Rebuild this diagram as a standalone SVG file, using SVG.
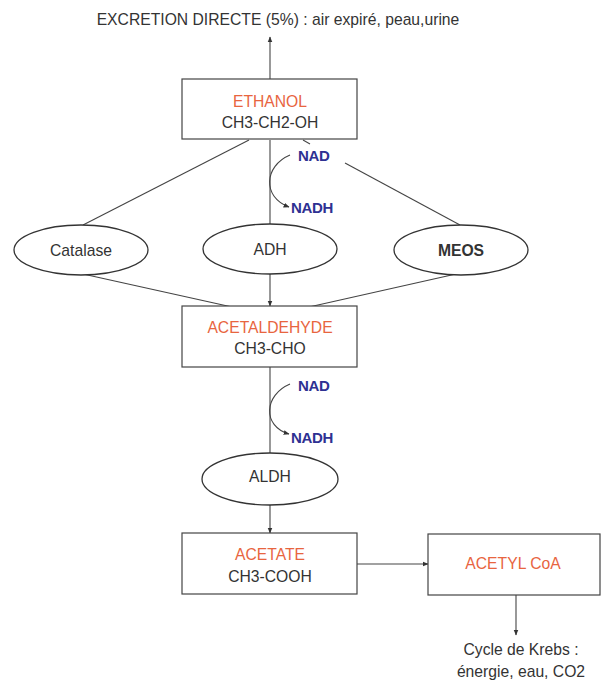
<svg xmlns="http://www.w3.org/2000/svg" width="606" height="688" viewBox="0 0 606 688">
<defs>
<marker id="ah" viewBox="0 0 10 10" refX="9" refY="5" markerWidth="6" markerHeight="6" orient="auto" markerUnits="userSpaceOnUse">
<path d="M0,1 L10,5 L0,9 Z" fill="#333"/>
</marker>
<style>
.box{fill:#fff;stroke:#444;stroke-width:1.2}
.ell{fill:#fff;stroke:#333;stroke-width:1.3}
.ln{fill:none;stroke:#444;stroke-width:1.1}
text{font-family:"Liberation Sans",Arial,sans-serif;font-size:15.7px;fill:#333;text-anchor:middle}
.or{fill:#e8653f}
.nad{fill:#2e3192;font-weight:bold;font-size:15px;text-anchor:start;letter-spacing:-0.3px}
</style>
</defs>
<rect width="606" height="688" fill="#fff"/>
<g id="connectors">
<line class="ln" x1="270" y1="79" x2="270" y2="37" marker-end="url(#ah)"/>
<line class="ln" x1="249" y1="140" x2="83" y2="225"/>
<line class="ln" x1="270" y1="140" x2="270" y2="224"/>
<line class="ln" x1="303" y1="140" x2="310" y2="144"/>
<line class="ln" x1="345" y1="163" x2="460" y2="225"/>
<path class="ln" d="M290,155 C264,166 262,197 289,207" marker-end="url(#ah)"/>
<line class="ln" x1="83" y1="274" x2="232" y2="307"/>
<line class="ln" x1="456" y1="274" x2="309" y2="307"/>
<line class="ln" x1="270" y1="274" x2="270" y2="306" marker-end="url(#ah)"/>
<line class="ln" x1="270" y1="367" x2="270" y2="453"/>
<path class="ln" d="M290,384 C264,395 262,426 289,434" marker-end="url(#ah)"/>
<line class="ln" x1="270" y1="505" x2="270" y2="533" marker-end="url(#ah)"/>
<line class="ln" x1="357" y1="564" x2="428" y2="564" marker-end="url(#ah)"/>
<line class="ln" x1="516" y1="595" x2="516" y2="635" marker-end="url(#ah)"/>
</g>
<g id="excretion"><text x="278" y="25">EXCRETION DIRECTE (5%) : air expiré, peau,urine</text></g>
<g id="ethanol">
<rect class="box" x="182" y="79" width="175" height="60"/>
<text class="or" x="270" y="107">ETHANOL</text>
<text x="270" y="128">CH3-CH2-OH</text>
</g>
<g id="nad1"><text class="nad" x="298" y="161">NAD</text></g>
<g id="nadh1"><text class="nad" x="291" y="213">NADH</text></g>
<g id="catalase">
<ellipse class="ell" cx="81" cy="250" rx="67" ry="25"/>
<text x="81" y="256">Catalase</text>
</g>
<g id="adh">
<ellipse class="ell" cx="270" cy="249" rx="67" ry="25"/>
<text x="270" y="255">ADH</text>
</g>
<g id="meos">
<ellipse class="ell" cx="461" cy="250" rx="67" ry="25"/>
<text x="461" y="256" font-weight="bold">MEOS</text>
</g>
<g id="acetaldehyde">
<rect class="box" x="182" y="306" width="175" height="61"/>
<text class="or" x="270" y="333">ACETALDEHYDE</text>
<text x="270" y="354">CH3-CHO</text>
</g>
<g id="nad2"><text class="nad" x="298" y="391">NAD</text></g>
<g id="nadh2"><text class="nad" x="291" y="443">NADH</text></g>
<g id="aldh">
<ellipse class="ell" cx="270" cy="479" rx="68" ry="26"/>
<text x="270" y="482">ALDH</text>
</g>
<g id="acetate">
<rect class="box" x="182" y="533" width="175" height="61"/>
<text class="or" x="270" y="560">ACETATE</text>
<text x="270" y="582">CH3-COOH</text>
</g>
<g id="acetylcoa">
<rect class="box" x="428" y="534" width="172" height="61"/>
<text class="or" x="513" y="569">ACETYL CoA</text>
</g>
<g id="krebs">
<text x="521" y="655">Cycle de Krebs :</text>
<text x="521" y="677">énergie, eau, CO2</text>
</g>
</svg>
